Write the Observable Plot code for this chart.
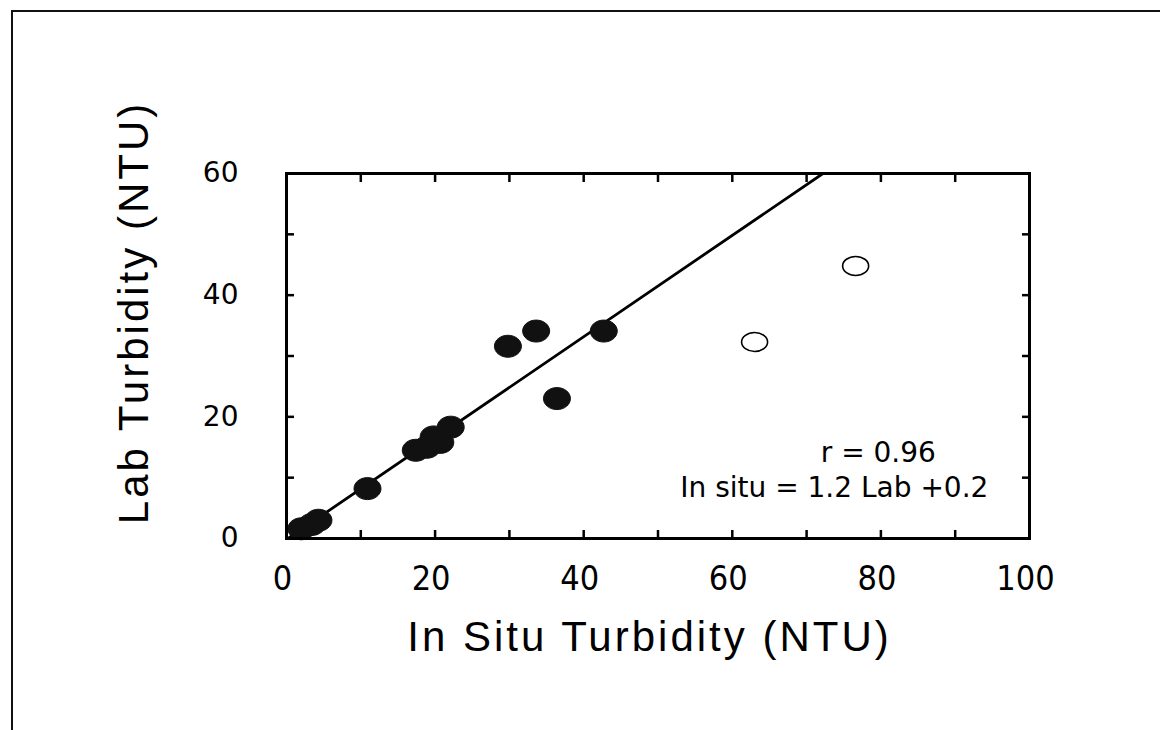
<!DOCTYPE html>
<html>
<head>
<meta charset="utf-8">
<script src="https://cdn.jsdelivr.net/npm/d3@7"></script>
<script src="https://cdn.jsdelivr.net/npm/@observablehq/plot@0.6"></script>
<style>
  html, body { margin: 0; padding: 0; background: #fff; }
  #wrap { position: relative; width: 1160px; height: 730px; overflow: hidden; }
  #border { position: absolute; left: 11px; top: 10px; right: -5px; bottom: -5px;
            border-top: 2px solid #111; border-left: 2px solid #111; pointer-events: none; }
  #chart { position: absolute; left: 0; top: 0; }
</style>
</head>
<body>
<div id="wrap"><div id="chart"></div><div id="border"></div></div>
<script>
// Filled points (In situ vs Lab turbidity, NTU)
const inSituFilled = [2.0, 3.4, 4.3, 10.9, 17.4, 18.9, 19.8, 20.7, 22.1, 29.8, 33.6, 42.7, 36.4];
const labFilled    = [1.6, 2.3, 3.0,  8.2, 14.5, 15.0, 16.7, 15.8, 18.3, 31.6, 34.1, 34.1, 23.0];
// Open points (excluded from the fit)
const inSituOpen = [63.0, 76.6];
const labOpen    = [32.3, 44.8];
// Regression: In situ = 1.2 Lab + 0.2
const fitSlope = 1.2;
const fitIntercept = 0.2;
const fitLab = [0, 60];
// Ticks and labels
const xTickValues = [0, 10, 20, 30, 40, 50, 60, 70, 80, 90, 100];
const yTickValues = [0, 10, 20, 30, 40, 50, 60];
const xLabelValues = [0, 20, 40, 60, 80, 100];
const yLabelValues = [0, 20, 40, 60];
const xTitle = "In Situ Turbidity (NTU)";
const yTitle = "Lab Turbidity (NTU)";
const annotations = ["r = 0.96", "In situ = 1.2 Lab +0.2"];

const filled = inSituFilled.map((x, i) => ({x, y: labFilled[i]}));
const open = inSituOpen.map((x, i) => ({x, y: labOpen[i]}));
const fit = fitLab.map(y => ({x: fitSlope * y + fitIntercept, y}));

function ellipseSymbol(rx, ry) {
  const k = 0.5522847498;
  return {
    draw(context) {
      context.moveTo(rx, 0);
      context.bezierCurveTo(rx, ry * k, rx * k, ry, 0, ry);
      context.bezierCurveTo(-rx * k, ry, -rx, ry * k, -rx, 0);
      context.bezierCurveTo(-rx, -ry * k, -rx * k, -ry, 0, -ry);
      context.bezierCurveTo(rx * k, -ry, rx, -ry * k, rx, 0);
      context.closePath();
    }
  };
}

const tickFont = "'DejaVu Sans', sans-serif";
const narrowFont = "'Liberation Sans Narrow', 'DejaVu Sans Condensed', 'Liberation Sans', sans-serif";
const titleFont = "'Liberation Sans', Arial, sans-serif";

const chart = Plot.plot({
  width: 1160,
  height: 730,
  marginLeft: 286,
  marginRight: 131,
  marginTop: 173,
  marginBottom: 192,
  x: {domain: [0, 100]},
  y: {domain: [0, 60]},
  style: {background: "transparent", color: "#000"},
  marks: [
    Plot.line(fit, {x: "x", y: "y", stroke: "#000", strokeWidth: 2.8, clip: true}),
    Plot.dot(filled, {x: "x", y: "y", symbol: ellipseSymbol(13.5, 11), fill: "#111", stroke: "#111", strokeWidth: 1}),
    Plot.dot(open, {x: "x", y: "y", symbol: ellipseSymbol(13, 9.5), fill: "#fff", stroke: "#000", strokeWidth: 1.6}),
    Plot.frame({stroke: "#000", strokeWidth: 3}),
    Plot.axisX(xTickValues, {anchor: "bottom", tickSize: -8, strokeWidth: 2.5, tickFormat: () => "", label: null}),
    Plot.axisX(xTickValues, {anchor: "top", tickSize: -8, strokeWidth: 2.5, tickFormat: () => "", label: null}),
    Plot.axisY(yTickValues, {anchor: "left", tickSize: -8, strokeWidth: 2.5, tickFormat: () => "", label: null}),
    Plot.axisY(yTickValues, {anchor: "right", tickSize: -8, strokeWidth: 2.5, tickFormat: () => "", label: null}),
    Plot.axisX(xLabelValues, {anchor: "bottom", tickSize: 0, tickPadding: 27, dx: -4, fontSize: 34, fontFamily: narrowFont, label: null}),
    Plot.axisY(yLabelValues, {anchor: "left", tickSize: 0, tickPadding: 48, fontSize: 28, fontFamily: tickFont, label: null}),
    Plot.text([xTitle], {frameAnchor: "bottom", textAnchor: "middle", lineAnchor: "bottom", dy: 112, dx: -8.5, fontSize: 42, fontFamily: titleFont, fill: "#000"}),
    Plot.text([yTitle], {frameAnchor: "left", textAnchor: "middle", lineAnchor: "bottom", rotate: -90, dx: -139, dy: -43.5, fontSize: 42, fontFamily: titleFont, fill: "#000"}),
    Plot.text([annotations[0]], {x: () => 71.9, y: () => 12.5, textAnchor: "start", lineAnchor: "bottom", fontSize: 28, fontFamily: tickFont, fill: "#000"}),
    Plot.text([annotations[1]], {x: () => 53.0, y: () => 6.74, textAnchor: "start", lineAnchor: "bottom", fontSize: 28, fontFamily: tickFont, fill: "#000"})
  ]
});

d3.select(chart).selectAll("text").each(function() {
  const t = this.textContent;
  if (t === xTitle || t === yTitle) this.style.letterSpacing = "3px";
});

document.getElementById("chart").appendChild(chart);
</script>
</body>
</html>
